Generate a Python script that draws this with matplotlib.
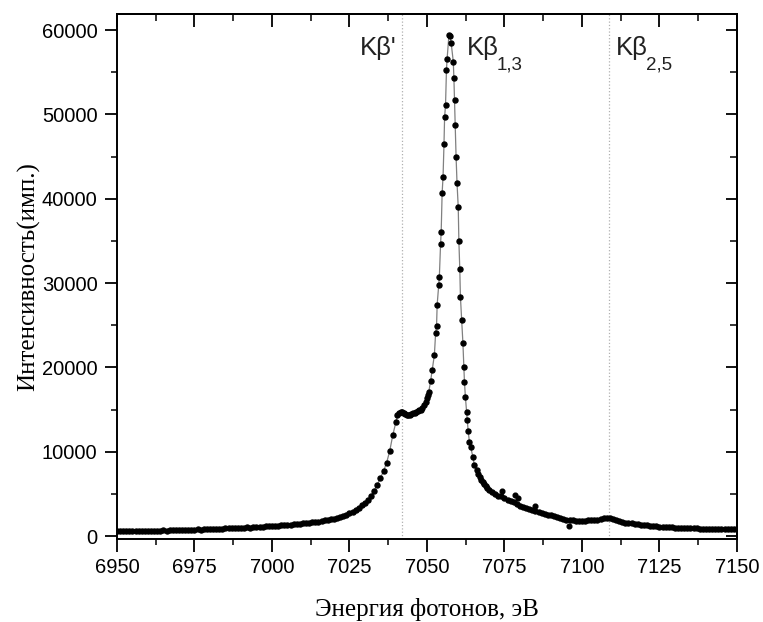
import numpy as np
import matplotlib
matplotlib.use("Agg")
import matplotlib.pyplot as plt
from matplotlib.ticker import MultipleLocator

plt.rcParams['font.family'] = ['Liberation Sans', 'DejaVu Sans']

# low-energy tail, 1 eV grid
tail_left_e = np.arange(6950, 7040)
tail_left_i = [600, 610, 590, 620, 600, 610, 630, 600, 620, 640,
               630, 650, 640, 660, 650, 670, 660, 690, 680, 700,
               710, 700, 730, 740, 750, 760, 780, 770, 800, 820,
               830, 850, 840, 870, 880, 900, 910, 900, 940, 960,
               980, 1000, 1020, 1010, 1050, 1080, 1100, 1120, 1150, 1180,
               1200, 1220, 1250, 1270, 1300, 1330, 1360, 1400, 1420, 1450,
               1500, 1530, 1580, 1620, 1680, 1720, 1780, 1850, 1900, 1980,
               2050, 2150, 2250, 2400, 2550, 2700, 2900, 3100, 3350, 3650,
               3900, 4300, 4800, 5400, 6100, 6900, 7700, 8700, 10100, 12000]

# K-beta' shoulder, 0.5 eV grid
shoulder_e = np.arange(7040, 7049.5, 0.5)
shoulder_i = [13500, 14300, 14600, 14700, 14700, 14600, 14500, 14400, 14300, 14300,
              14500, 14600, 14600, 14700, 14800, 14900, 15000, 15200, 15500]

# main K-beta 1,3 line
peak_e = [7049.6, 7050.0, 7050.3, 7050.6, 7051.2, 7051.7, 7052.4, 7052.8, 7053.1, 7053.3,
          7053.8, 7054.0, 7054.4, 7054.6, 7054.9, 7055.2, 7055.5, 7055.7, 7056.0, 7056.3,
          7056.5, 7057.1, 7057.4, 7057.8, 7058.5, 7058.7, 7058.9, 7059.1, 7059.4, 7059.7,
          7060.1, 7060.3, 7060.6, 7060.8, 7061.2, 7061.6, 7061.9, 7062.1, 7062.4, 7062.8,
          7063.0, 7063.3, 7063.7, 7064.1, 7064.8, 7065.3]
peak_i = [15930, 16400, 16700, 17120, 18420, 19690, 21470, 24050, 24910, 27440,
          29740, 30690, 34640, 36100, 40650, 42620, 46460, 49670, 51130, 55280,
          56550, 59430, 59350, 58520, 56260, 54290, 51720, 48750, 44990, 41910,
          38990, 35030, 31640, 28390, 25620, 22930, 20080, 18300, 16520, 14750,
          13760, 12460, 11190, 10590, 9410, 8420]

fall_e = np.arange(7066, 7070, 0.5)
fall_i = [7800, 7400, 7000, 6700, 6400, 6200, 5950, 5750]

# high-energy tail incl. K-beta 2,5
tail_right_e = np.arange(7070, 7151)
tail_right_i = [5500, 5200, 5000, 4800, 4700, 4500, 4300, 4100, 4000, 3800,
                3600, 3500, 3300, 3200, 3100, 2950, 2850, 2750, 2650, 2550,
                2450, 2350, 2250, 2150, 2050, 1950, 1850, 1850, 1800, 1800,
                1800, 1800, 1850, 1850, 1900, 1950, 2000, 2100, 2200, 2150,
                2000, 1850, 1750, 1700, 1600, 1550, 1500, 1450, 1400, 1350,
                1300, 1280, 1250, 1200, 1150, 1120, 1100, 1080, 1050, 1020,
                1000, 980, 960, 950, 930, 920, 900, 900, 890, 880,
                870, 870, 860, 860, 850, 850, 850, 840, 840, 840,
                830]

scatter_e = [7074.2, 7078.5, 7079.5, 7085.0, 7095.7]
scatter_i = [5300, 4900, 4500, 3600, 1200]

line_pos = [7041.9, 7108.7]
labels = ["Kβ'", "Kβ", "Kβ"]
subs = ["", "1,3", "2,5"]
label_e = [7028.4, 7062.9, 7111.0]

energy = np.concatenate([tail_left_e, shoulder_e, peak_e, fall_e, tail_right_e])
intensity = np.concatenate([tail_left_i, shoulder_i, peak_i, fall_i, tail_right_i])

fig = plt.figure(figsize=(7.63, 6.22), dpi=100)
ax = fig.add_axes([0.1533, 0.1334, 0.8125, 0.8441])

for x in line_pos:
    ax.axvline(x, color='#b0b0b0', lw=0.9, ls=':', zorder=1)

ax.plot(energy, intensity, color='#808080', lw=0.9, zorder=2)
ax.plot(energy, intensity, 'o', color='black', ms=3.6, mec='black', zorder=3)
ax.plot(scatter_e, scatter_i, 'o', color='black', ms=3.4, zorder=3)

for txt, sub, x in zip(labels, subs, label_e):
    t = ax.text(x, 57000, txt, fontsize=18.5, ha='left', va='baseline', color='#222222')
    if sub:
        ax.annotate(sub, xy=(1, 0), xycoords=t, xytext=(-1.5, -6.5), textcoords='offset points',
                    fontsize=13.5, ha='left', va='baseline', color='#222222')

ax.set_xlim(6950, 7150)
ax.set_ylim(-350, 61900)
ax.xaxis.set_major_locator(MultipleLocator(25))
ax.xaxis.set_minor_locator(MultipleLocator(12.5))
ax.yaxis.set_major_locator(MultipleLocator(10000))
ax.yaxis.set_minor_locator(MultipleLocator(5000))
ax.tick_params(which='major', direction='out', length=9, width=1.3, labelsize=14.5, pad=5)
ax.tick_params(which='minor', direction='out', length=4, width=1.1)

top = ax.secondary_xaxis('top')
top.xaxis.set_major_locator(MultipleLocator(25))
top.xaxis.set_minor_locator(MultipleLocator(12.5))
top.tick_params(which='major', direction='in', length=9, width=1.3, labeltop=False)
top.tick_params(which='minor', direction='in', length=5, width=1.1)
right = ax.secondary_yaxis('right')
right.yaxis.set_major_locator(MultipleLocator(10000))
right.yaxis.set_minor_locator(MultipleLocator(5000))
right.tick_params(which='major', direction='in', length=8, width=1.3, labelright=False)
right.tick_params(which='minor', direction='in', length=5, width=1.1)
for a in (ax, top, right):
    for s in a.spines.values():
        s.set_linewidth(1.4)

ax.set_xlabel('Энергия фотонов, эВ', family='Liberation Serif', fontsize=18, labelpad=15)
ax.set_ylabel('Интенсивность(имп.)', family='Liberation Serif', fontsize=18, labelpad=1)

fig.savefig('out.png', dpi=100)
